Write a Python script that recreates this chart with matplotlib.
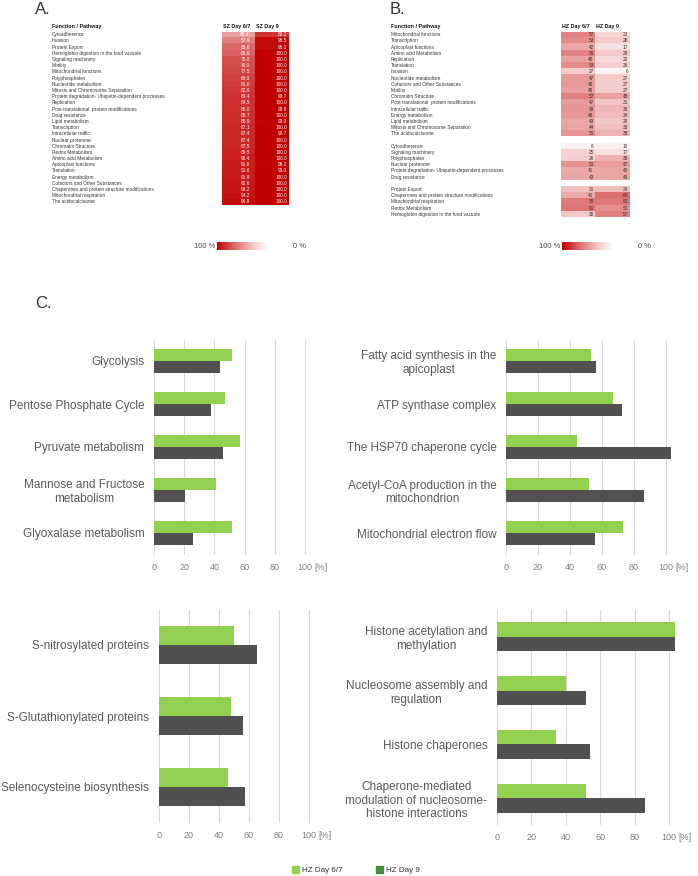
import numpy as np
import matplotlib
matplotlib.use("Agg")
from matplotlib import pyplot as plt
from matplotlib import transforms
from matplotlib.colors import LinearSegmentedColormap
from matplotlib.patches import Patch

plt.rcParams['font.family'] = ['Liberation Sans', 'DejaVu Sans']

# ---------------- panel A data (SZ)
a_labels = ["Cytoadherence", "Invasion", "Protein Export",
            "Hemoglobin digestion in the food vacuole", "Signaling machinery", "Motility",
            "Mitochondrial functions", "Polyphosphates", "Nucleotide metabolism",
            "Mitosis and Chromosome Separation",
            "Protein degradation- Ubiquitin-dependent processes", "Replication",
            "Post-translational  protein modifications", "Drug resistance", "Lipid metabolism",
            "Transcription", "Intracellular traffic", "Nuclear proteome", "Chromatin Structure",
            "Redox Metabolism", "Amino acid Metabolism", "Apicoplast functions", "Translation",
            "Energy metabolism", "Cofactors and Other Substances",
            "Chaperones and protein structure modifications", "Mitochondrial respiration",
            "The acidocalcisome"]
a_day67 = [45.4, 57.4, 65.6, 68.6, 75.0, 76.0, 77.5, 80.0, 81.0, 82.6, 84.4, 84.5, 85.0, 85.7,
           85.9, 87.1, 87.4, 87.4, 87.5, 89.5, 90.4, 91.0, 91.6, 91.9, 92.6, 93.2, 94.2, 96.9]
a_day9 = [83.2, 96.5, 96.1, 100.0, 100.0, 100.0, 100.0, 100.0, 100.0, 100.0, 99.7, 100.0, 99.9,
          100.0, 99.0, 100.0, 99.7, 100.0, 100.0, 100.0, 100.0, 98.2, 99.0, 100.0, 100.0, 100.0,
          100.0, 100.0]

# ---------------- panel B data (HZ), three groups
b_labels_1 = ["Mitochondrial functions", "Transcription", "Apicoplast functions",
              "Amino acid Metabolism", "Replication", "Translation", "Invasion",
              "Nucleotide metabolism", "Cofactors and Other Substances", "Motility",
              "Chromatin Structure", "Post-translational  protein modifications",
              "Intracellular traffic", "Energy metabolism", "Lipid metabolism",
              "Mitosis and Chromosome Separation", "The acidocalcisome"]
b_day67_1 = [57, 53, 42, 56, 45, 53, 27, 47, 48, 45, 57, 47, 49, 48, 43, 44, 50]
b_day9_1 = [23, 28, 17, 29, 20, 26, 6, 27, 27, 27, 45, 31, 36, 34, 29, 33, 38]
b_labels_2 = ["Cytoadherence", "Signaling machinery", "Polyphosphates", "Nuclear proteome",
              "Protein degradation- Ubiquitin-dependent processes", "Drug resistance"]
b_day67_2 = [6, 25, 26, 51, 41, 43]
b_day9_2 = [10, 17, 38, 47, 43, 43]
b_labels_3 = ["Protein Export", "Chaperones and protein structure modifications",
              "Mitochondrial respiration", "Redox Metabolism",
              "Hemoglobin digestion in the food vacuole"]
b_day67_3 = [31, 41, 59, 61, 30]
b_day9_3 = [34, 64, 60, 52, 57]

# ---------------- panel C data (HZ Day 6/7 vs HZ Day 9)
c1_cats = ["Glycolysis", "Pentose Phosphate Cycle", "Pyruvate metabolism",
           "Mannose and Fructose\nmetabolism", "Glyoxalase metabolism"]
c1_d67 = [51.6, 46.8, 57.2, 41.3, 51.6]
c1_d9 = [43.7, 37.5, 45.9, 20.8, 25.6]
c2_cats = ["Fatty acid synthesis in the\napicoplast", "ATP synthase complex",
           "The HSP70 chaperone cycle", "Acetyl-CoA production in the\nmitochondrion",
           "Mitochondrial electron flow"]
c2_d67 = [52.9, 66.9, 44.2, 51.7, 73.1]
c2_d9 = [56.0, 72.3, 103.3, 86.3, 55.8]
c3_cats = ["S-nitrosylated proteins", "S-Glutathionylated proteins",
           "Selenocysteine biosynthesis"]
c3_d67 = [49.8, 48.2, 46.0]
c3_d9 = [65.3, 55.8, 57.1]
c4_cats = ["Histone acetylation and\nmethylation", "Nucleosome assembly and\nregulation",
           "Histone chaperones",
           "Chaperone-mediated\nmodulation of nucleosome-\nhistone interactions"]
c4_d67 = [103.3, 40.1, 34.3, 51.6]
c4_d9 = [103.5, 51.7, 54.1, 86.0]
x_ticks = [0, 20, 40, 60, 80, 100]

W, H = 698, 876
fig = plt.figure(figsize=(W / 100, H / 100), dpi=100)
heat_cmap = LinearSegmentedColormap.from_list(
    "heat", [(0, "#ffffff"), (0.25, "#f6d2d2"), (0.5, "#e69494"), (0.75, "#d65050"), (1, "#c00000")])
GREEN = "#92D050"
DARK = "#505050"


def px_axes(x0, y0, x1, y1):
    '''axes from pixel box (top-left origin)'''
    return fig.add_axes([x0 / W, 1 - y1 / H, (x1 - x0) / W, (y1 - y0) / H])


def heat_table(ax, labels, col1, col2, label_x, headers, light_text):
    vals = np.array([col1, col2], dtype=float).T
    ax.imshow(vals, cmap=heat_cmap, vmin=0, vmax=100, aspect='auto', interpolation='nearest')
    ax.set_axis_off()
    tr = transforms.blended_transform_factory(fig.transFigure, ax.transData)
    for i, lab in enumerate(labels):
        if lab:
            ax.text(label_x / W, i, lab, transform=tr, fontsize=3.4, va='center', ha='left',
                    color='#333333')
        for j in range(2):
            v = vals[i, j]
            if np.isnan(v):
                continue
            txt = f"{v:.1f}" if light_text else f"{v:.0f}"
            ax.text(j + 0.45 - (0.12 if j == 0 and light_text else 0), i, txt, fontsize=3.4,
                    va='center', ha='right', color='white' if light_text else '#333333')
    ax.text(label_x / W, -0.9, "Function / Pathway", transform=tr, fontsize=3.9,
            fontweight='bold', va='bottom', ha='left', color='#111111')
    for j, hd in enumerate(headers):
        ax.text(j - 0.48, -0.9, hd, fontsize=3.9, fontweight='bold', va='bottom', ha='left',
                color='#111111')


def color_scale(x0, x1, yc):
    cax = px_axes(x0, yc - 4, x1, yc + 4)
    cax.imshow(np.linspace(100, 0, 100)[None, :], cmap=heat_cmap, vmin=0, vmax=100,
               aspect='auto')
    cax.set_axis_off()
    fig.text((x0 - 2) / W, 1 - yc / H, "100 %", fontsize=5.4, ha='right', va='center',
             color='#444444')
    fig.text((x1 + 25) / W, 1 - yc / H, "0 %", fontsize=5.4, ha='left', va='center',
             color='#444444')


# ---------------- panel A
ax_a = px_axes(222, 31.7, 289, 205)
heat_table(ax_a, a_labels, a_day67, a_day9, 52, ["SZ Day 6/7", "SZ Day 9"], True)
color_scale(217, 268, 246)

# ---------------- panel B (blank row between groups)
b_labels = b_labels_1 + [""] + b_labels_2 + [""] + b_labels_3
b_day67 = b_day67_1 + [np.nan] + b_day67_2 + [np.nan] + b_day67_3
b_day9 = b_day9_1 + [np.nan] + b_day9_2 + [np.nan] + b_day9_3
ax_b = px_axes(561, 31.7, 630, 217.3)
heat_table(ax_b, b_labels, b_day67, b_day9, 391, ["HZ Day 6/7", "HZ Day 9"], False)
color_scale(562, 613, 246)

fig.text(35 / W, 1 - 10 / H, "A.", fontsize=12, va='center', ha='left', color='#333333')
fig.text(390 / W, 1 - 10 / H, "B.", fontsize=12, va='center', ha='left', color='#333333')
fig.text(35 / W, 1 - 304 / H, "C.", fontsize=12, va='center', ha='left', color='#333333')


# ---------------- panel C bar charts
def bar_panel(box, cats, d67, d9):
    ax = px_axes(*box)
    y = np.arange(len(cats))
    h = 0.27
    ax.barh(y - h / 2, d67, height=h, color=GREEN, zorder=3)
    ax.barh(y + h / 2, d9, height=h, color=DARK, zorder=3)
    ax.set_ylim(len(cats) - 0.5, -0.5)
    ax.set_xlim(0, 110)
    ax.set_xticks(x_ticks)
    ax.set_xticklabels([str(t) for t in x_ticks])
    ax.annotate("[%]", xy=(100, 0), xycoords=('data', 'axes fraction'),
                xytext=(6.6, -6), textcoords='offset points', ha='left', va='top',
                fontsize=6.5, color='#7f7f7f')
    ax.set_yticks(y)
    ax.set_yticklabels(cats)
    for lab in ax.get_yticklabels():
        lab.set_multialignment('center')
    ax.tick_params(axis='x', length=0, pad=6, labelsize=6.5, labelcolor='#7f7f7f')
    ax.tick_params(axis='y', length=0, pad=7, labelsize=8.5, labelcolor='#595959')
    ax.grid(axis='x', color='#d9d9d9', linewidth=0.8, zorder=0)
    for s in ax.spines.values():
        s.set_visible(False)
    return ax


bar_panel((154, 339.5, 154 + 1.51 * 110, 554.5), c1_cats, c1_d67, c1_d9)
bar_panel((506, 339.5, 506 + 1.60 * 110, 554.5), c2_cats, c2_d67, c2_d9)
bar_panel((159, 609.5, 159 + 1.50 * 110, 822.5), c3_cats, c3_d67, c3_d9)
bar_panel((497, 610, 497 + 1.72 * 110, 825), c4_cats, c4_d67, c4_d9)

handles = [Patch(color=GREEN, label="HZ Day 6/7"), Patch(color="#3f8f3f", label="HZ Day 9")]
fig.legend(handles=handles, loc='center', bbox_to_anchor=(356 / W, 1 - 870 / H), ncol=2,
           frameon=False, fontsize=5.8, handlelength=0.9, handleheight=0.9,
           handletextpad=0.3, columnspacing=4.2, labelcolor='#333333')

fig.savefig("out.png", dpi=100, facecolor='white')
